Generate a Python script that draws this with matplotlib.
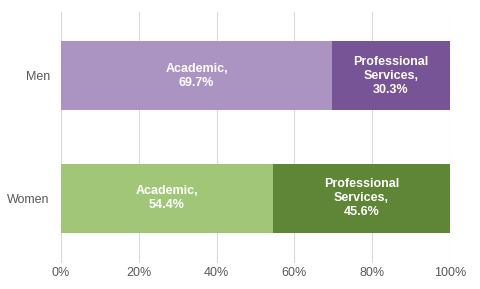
import matplotlib
matplotlib.use("Agg")
import matplotlib.pyplot as plt
from matplotlib.ticker import FuncFormatter

groups = ["Women", "Men"]
academic = [54.4, 69.7]
professional = [45.6, 30.3]
acad_colors = ["#a1c677", "#ac94c2"]
prof_colors = ["#5f8537", "#775496"]

plt.rcParams["font.family"] = ["Liberation Sans", "DejaVu Sans"]

fig = plt.figure(figsize=(4.8, 2.89), dpi=100)
ax = fig.add_axes([0.127, 0.09, 0.8105, 0.868])

y = range(len(groups))
ax.barh(y, academic, height=0.565, color=acad_colors, zorder=2)
ax.barh(y, professional, left=academic, height=0.565, color=prof_colors, zorder=2)

for i in y:
    ax.text(academic[i] / 2, i, f"Academic,\n{academic[i]}%", ha="center", va="center",
            color="white", fontsize=9, fontweight="bold", linespacing=1.2, zorder=3)
    ax.text(academic[i] + professional[i] / 2, i,
            f"Professional\nServices,\n{professional[i]}%", ha="center", va="center",
            color="white", fontsize=9, fontweight="bold", linespacing=1.2, zorder=3)

ax.set_xlim(0, 100)
ax.set_ylim(-0.53, 1.52)
ax.set_xticks([0, 20, 40, 60, 80, 100])
ax.xaxis.set_major_formatter(FuncFormatter(lambda v, p: f"{v:.0f}%"))
ax.set_yticks(list(y))
ax.set_yticklabels(groups)
ax.grid(axis="x", color="#dcd8e2", lw=0.8, zorder=0)
for s in ax.spines.values():
    s.set_visible(False)
ax.tick_params(length=0, labelsize=9, labelcolor="#595959")
ax.tick_params(axis="x", pad=3)
ax.tick_params(axis="y", pad=8)

fig.savefig("out.png", dpi=100)
